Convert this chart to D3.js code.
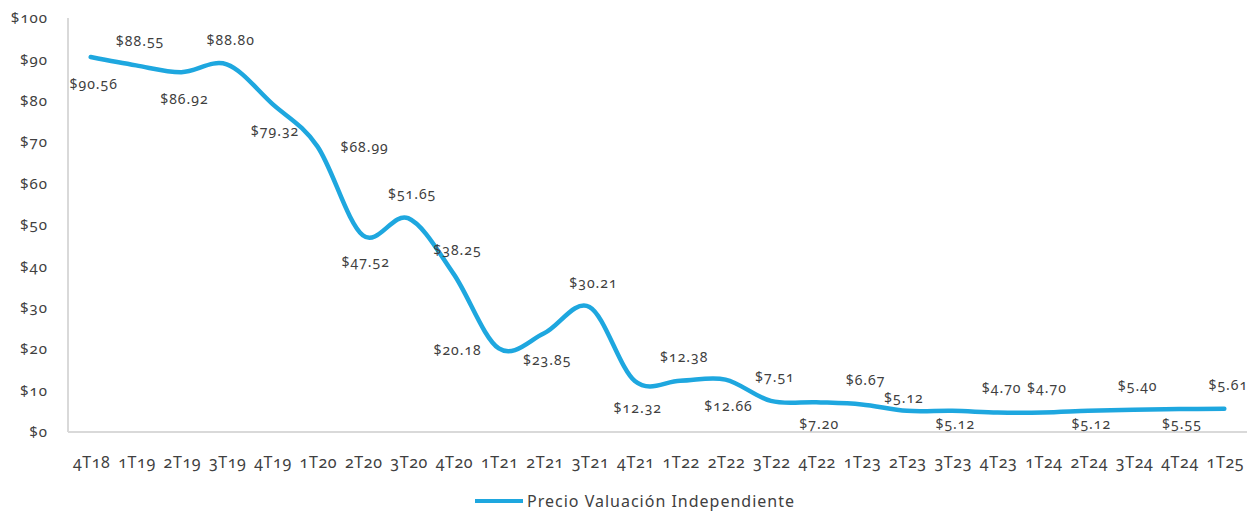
<!DOCTYPE html>
<html>
<head>
<meta charset="utf-8">
<script src="https://cdn.jsdelivr.net/npm/d3@7"></script>
<style>
  body { margin: 0; background: #fff; }
  text { font-family: "Noto Sans", sans-serif; font-variant-numeric: oldstyle-nums; fill: #404040; }
</style>
</head>
<body>
<div id="chart"></div>
<script>
// Quarters on the x axis
const quarters = ["4T18", "1T19", "2T19", "3T19", "4T19", "1T20", "2T20", "3T20", "4T20",
  "1T21", "2T21", "3T21", "4T21", "1T22", "2T22", "3T22", "4T22", "1T23", "2T23",
  "3T23", "4T23", "1T24", "2T24", "3T24", "4T24", "1T25"];

// Precio Valuación Independiente
const prices = [90.56, 88.55, 86.92, 88.80, 79.32, 68.99, 47.52, 51.65, 38.25,
  20.18, 23.85, 30.21, 12.32, 12.38, 12.66, 7.51, 7.20, 6.67, 5.12,
  5.12, 4.70, 4.70, 5.12, 5.40, 5.55, 5.61];

const yTicks = [0, 10, 20, 30, 40, 50, 60, 70, 80, 90, 100];
const seriesName = "Precio Valuación Independiente";

// where each data label sits relative to its point
// (b = below, a = above, n = just above, r = right, l = left)
const labelSide = ["b", "a", "b", "a", "b", "r", "b", "a", "a", "l", "b", "a", "b",
  "a", "b", "a", "b", "a", "n", "b", "a", "a", "b", "a", "b", "a"];

const width = 1254;
const height = 514;
const margin = { top: 18, right: 7, bottom: 82, left: 68 };
const lineColor = "#1ea7df";

const svg = d3.select("#chart")
  .append("svg")
  .attr("width", width)
  .attr("height", height);

const x = d3.scaleBand()
  .domain(quarters)
  .range([margin.left, width - margin.right]);

const y = d3.scaleLinear()
  .domain([0, 100])
  .range([height - margin.bottom, margin.top]);

const cx = d => x(d) + x.bandwidth() / 2;

// axis lines
svg.append("line")
  .attr("x1", margin.left).attr("x2", margin.left)
  .attr("y1", y(100)).attr("y2", y(0))
  .attr("stroke", "#d9d9d9").attr("stroke-width", 2);

svg.append("line")
  .attr("x1", margin.left).attr("x2", width - margin.right)
  .attr("y1", y(0)).attr("y2", y(0))
  .attr("stroke", "#d9d9d9").attr("stroke-width", 2);

// y tick labels
svg.selectAll(".ytick")
  .data(yTicks)
  .enter().append("text")
  .attr("class", "ytick")
  .attr("x", 48)
  .attr("y", d => y(d))
  .attr("dy", "0.35em")
  .attr("text-anchor", "end")
  .style("font-size", "15px")
  .style("letter-spacing", "1px")
  .text(d => "$" + d);

// x tick labels
svg.selectAll(".xtick")
  .data(quarters)
  .enter().append("text")
  .attr("class", "xtick")
  .attr("x", d => cx(d) + 1)
  .attr("y", 462)
  .attr("dy", "0.35em")
  .attr("text-anchor", "middle")
  .style("font-size", "16px")
  .style("letter-spacing", "0.6px")
  .text(d => d);

// smoothed line
const line = d3.line()
  .x((d, i) => cx(quarters[i]))
  .y(d => y(d))
  .curve(d3.curveCardinal.tension(0));

svg.append("path")
  .datum(prices)
  .attr("d", line)
  .attr("fill", "none")
  .attr("stroke", lineColor)
  .attr("stroke-width", 4.5)
  .attr("stroke-linecap", "round");

// data labels
const offsets = {
  a: { dx: 4, dy: -24, anchor: "middle" },
  n: { dx: -3, dy: -13, anchor: "middle" },
  b: { dx: 3, dy: 27, anchor: "middle" },
  r: { dx: 23, dy: 1, anchor: "start" },
  l: { dx: -17, dy: 2, anchor: "end" }
};

const labelY = (d, i) => {
  const side = labelSide[i];
  const ly = y(d) + offsets[side].dy;
  return side === "b" ? Math.min(ly, y(0) - 8) : ly;
};

svg.selectAll(".dlabel")
  .data(prices)
  .enter().append("text")
  .attr("class", "dlabel")
  .attr("x", (d, i) => cx(quarters[i]) + offsets[labelSide[i]].dx)
  .attr("y", labelY)
  .attr("dy", "0.35em")
  .attr("text-anchor", (d, i) => offsets[labelSide[i]].anchor)
  .style("font-size", "14px")
  .style("letter-spacing", "1px")
  .text(d => "$" + d.toFixed(2));

// legend
const legend = svg.append("g").attr("transform", "translate(475,501)");
legend.append("line")
  .attr("x1", 0).attr("x2", 48)
  .attr("stroke", lineColor).attr("stroke-width", 4);
legend.append("text")
  .attr("x", 52)
  .attr("dy", "0.35em")
  .style("font-size", "16px")
  .style("letter-spacing", "1px")
  .text(seriesName);
</script>
</body>
</html>
